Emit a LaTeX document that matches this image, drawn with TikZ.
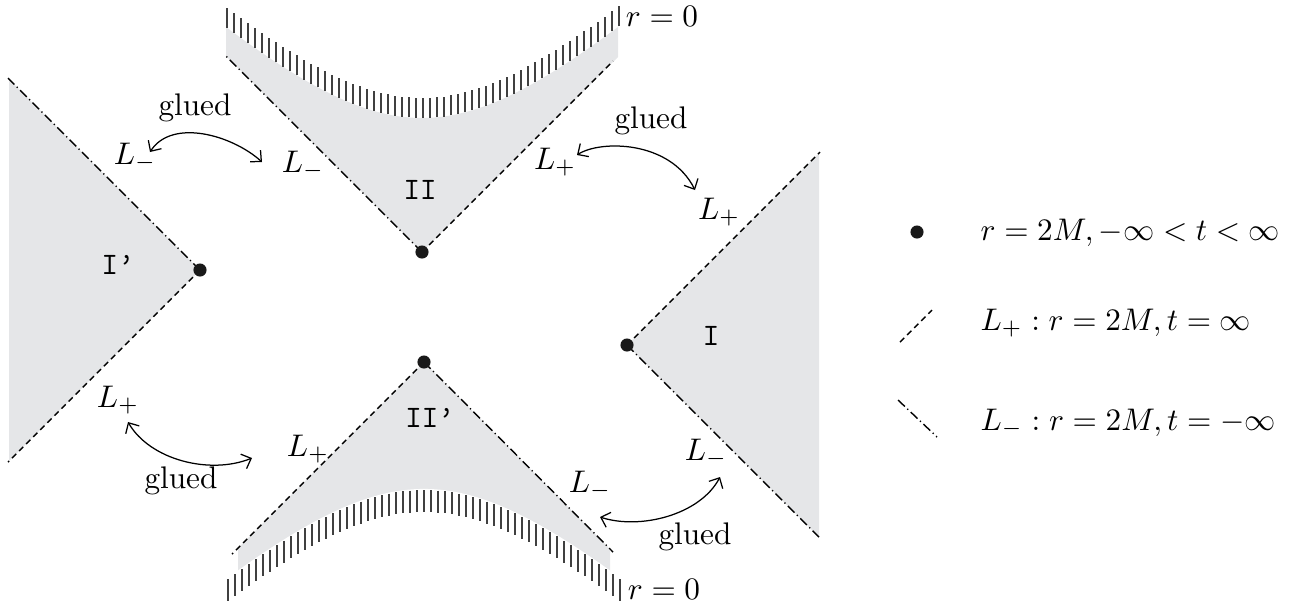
\documentclass[tikz,border=0pt]{standalone}
\usetikzlibrary{arrows.meta}
\definecolor{regiongray}{RGB}{229,230,232}
\begin{document}
\begin{tikzpicture}[x=0.32pt,y=-0.32pt,
  plusline/.style={line width=0.45pt, dash pattern=on 1.9pt off 1.3pt},
  minusline/.style={line width=0.45pt, dash pattern=on 3pt off 1.1pt on 0.4pt off 1.1pt},
  region/.style={fill=regiongray},
  bh/.style={circle, fill=black!90, inner sep=0pt, minimum size=4.2pt},
  hatch/.style={line width=0.4pt, black!75},
  glue/.style={{Straight Barb[length=2.6pt,width=5pt]}-{Straight Barb[length=2.6pt,width=5pt]}, line width=0.4pt},
  lab/.style={inner sep=0pt},
  reg/.style={inner sep=0pt, font=\ttfamily}]
\useasboundingbox (0,0) rectangle (1295,609);

% vertices and line ends
\coordinate (vII) at (422,252);
\coordinate (vIIp) at (424,362);
\coordinate (vIp) at (200,270);
\coordinate (vI) at (627,345);
\coordinate (IIl) at (225,55);
\coordinate (IIr) at (613,61);
\coordinate (IIpl) at (232,554);
\coordinate (IIpr) at (613,552);
\coordinate (Ipu) at (8,78);
\coordinate (Ipd) at (8,462);
\coordinate (Iu) at (820,152);
\coordinate (Id) at (819,537);

% region II
\fill[region] (vII) -- (226,56) -- (226,27)
  -- plot[domain=226:618,samples=60] (\x,{118-141*(sqrt(1+((\x-422)/150)^2)-1)})
  -- (618,57) -- cycle;
\foreach \x in {227,234,...,619}
  \draw[hatch] (\x,{118-141*(sqrt(1+((\x-422)/150)^2)-1)}) -- ++(0,-20);

% region II'
\fill[region] (vIIp) -- (238,548) -- (238,572)
  -- plot[domain=238:610,samples=60] (\x,{490+138*(sqrt(1+((\x-424)/150)^2)-1)})
  -- (610,549) -- cycle;
\draw[white, line width=0.7pt] plot[domain=238:610,samples=60] (\x,{490+138*(sqrt(1+((\x-424)/150)^2)-1)});
\foreach \x in {228,235,...,620}
  \draw[hatch] (\x,{490+138*(sqrt(1+((\x-424)/150)^2)-1)}) -- ++(0,22);

% region I'
\fill[region] (vIp) -- (9,79) -- (9,461) -- cycle;
% region I
\fill[region] (vI) -- (819,153) -- (819,537) -- cycle;

% horizon lines
\draw[minusline] (vII) -- (IIl);
\draw[plusline] (vII) -- (IIr);
\draw[plusline] (vIIp) -- (IIpl);
\draw[minusline] (vIIp) -- (IIpr);
\draw[minusline] (vIp) -- (Ipu);
\draw[plusline] (vIp) -- (Ipd);
\draw[plusline] (vI) -- (Iu);
\draw[minusline] (vI) -- (Id);

% bifurcation points
\node[bh] (dII) at (vII) {};
\node[bh] (dIIp) at (vIIp) {};
\node[bh] (dIp) at (vIp) {};
\node[bh] (dI) at (vI) {};

% region labels
\node[reg] (tII) at (420,190) {II};
\node[reg] (tIIp) at (430,418) {II’};
\node[reg] (tIp) at (118,265) {I’};
\node[reg] (tI) at (711,336) {I};

% singularity labels
\node[lab] (r0t) at (662,16) {$r=0$};
\node[lab] (r0b) at (664,589) {$r=0$};

% horizon labels
\node[lab] (Lm1) at (135,157) {$L_-$};
\node[lab] (Lm2) at (303,165) {$L_-$};
\node[lab] (Lp1) at (555,162) {$L_+$};
\node[lab] (Lp2) at (719,212) {$L_+$};
\node[lab] (Lp3) at (118,400) {$L_+$};
\node[lab] (Lp4) at (308,449) {$L_+$};
\node[lab] (Lm3) at (590,485) {$L_-$};
\node[lab] (Lm4) at (706,453) {$L_-$};

% glued labels
\node[lab] (g1) at (195,108) {glued};
\node[lab] (g2) at (651,121) {glued};
\node[lab] (g3) at (181,481) {glued};
\node[lab] (g4) at (695,537) {glued};

% glue arrows
\coordinate (a1s) at (150,152); \coordinate (a1e) at (262,162);
\coordinate (a2s) at (577,155); \coordinate (a2e) at (695,190);
\coordinate (a3s) at (128,422); \coordinate (a3e) at (252,458);
\coordinate (a4s) at (600,517); \coordinate (a4e) at (720,477);
\draw[glue] (a1s) .. controls (172,118) and (232,135) .. (a1e);
\draw[glue] (a2s) .. controls (600,140) and (670,140) .. (a2e);
\draw[glue] (a3s) .. controls (150,460) and (210,475) .. (a3e);
\draw[glue] (a4s) .. controls (640,530) and (700,515) .. (a4e);

% legend
\node[bh] (legdot) at (917,232) {};
\node[lab, anchor=base west] (leg1) at (980,240) {$r=2M, -\infty<t<\infty$};
\coordinate (lp1) at (900,342); \coordinate (lp2) at (932,310);
\draw[plusline] (lp1) -- (lp2);
\node[lab, anchor=base west] (leg2) at (980,330) {$L_+ : r=2M, t=\infty$};
\coordinate (lm1) at (898,400); \coordinate (lm2) at (937,437);
\draw[minusline] (lm1) -- (lm2);
\node[lab, anchor=base west] (leg3) at (980,430) {$L_- : r=2M, t=-\infty$};
\end{tikzpicture}
\end{document}
